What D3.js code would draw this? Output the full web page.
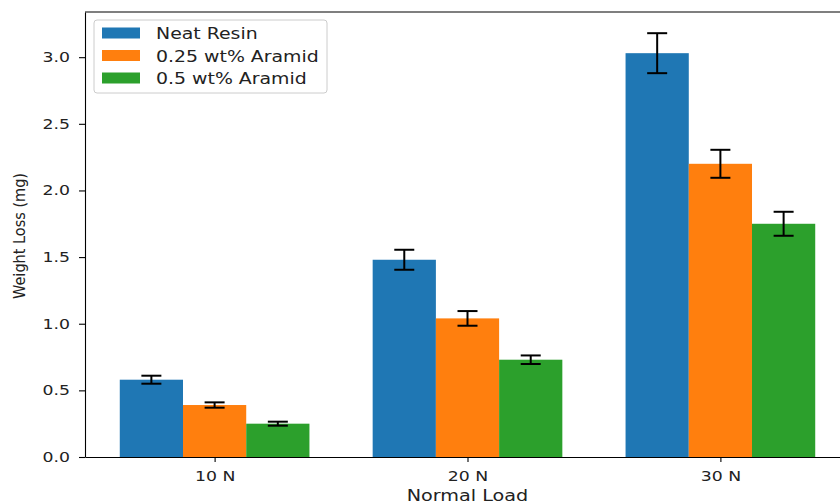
<!DOCTYPE html>
<html>
<head>
<meta charset="utf-8">
<script src="https://cdn.jsdelivr.net/npm/d3@7"></script>
<style>
body{margin:0;background:#fff;}
svg{display:block;font-family:"DejaVu Sans",sans-serif;}
</style>
</head>
<body>
<svg id="svg" width="840" height="504"></svg>
<script>
var loads=['10 N','20 N','30 N'];
var series=['Neat Resin','0.25 wt% Aramid','0.5 wt% Aramid'];
var colors=['#1f77b4','#ff7f0e','#2ca02c'];
var neat=[0.58,1.48,3.03];
var neatErr=[0.03,0.075,0.15];
var ar25=[0.39,1.04,2.20];
var ar25Err=[0.02,0.055,0.105];
var ar50=[0.25,0.73,1.75];
var ar50Err=[0.015,0.032,0.09];
var yticks=[0,0.5,1.0,1.5,2.0,2.5,3.0];

var values=[neat,ar25,ar50];
var errs=[neatErr,ar25Err,ar50Err];

var svg=d3.select("#svg");
var padding={top:12,left:85};
var chartarea={width:765,height:445};
var barw=0.25;
var sx=1.28; // text in the picture is stretched sideways

// numeric x positions like matplotlib: category index +/- bar width
var xscale=d3.scaleLinear()
.domain([-0.5125,2.5125])
.range([0,chartarea.width]);

var ymax=d3.max(values.map(function(v,s){
	return d3.max(v.map(function(d,i){return d+errs[s][i];}));
}))*1.05;

var yscale=d3.scaleLinear()
.domain([0,ymax])
.range([chartarea.height,0]);

var g=svg.append("g")
.attr('transform','translate('+padding.left+','+padding.top+')');

// bars
var bars=[];
values.forEach(function(v,s){
	v.forEach(function(d,i){
		bars.push({s:s,i:i,v:d,e:errs[s][i]});
	});
});

g.selectAll("rect.bar").data(bars).enter()
.append("rect")
.attr("class","bar")
.attr("x",function(d){return xscale(d.i+(d.s-1)*barw-barw/2);})
.attr("width",function(d){return xscale(barw)-xscale(0);})
.attr("y",function(d){return yscale(d.v);})
.attr("height",function(d){return chartarea.height-yscale(d.v);})
.attr("fill",function(d){return colors[d.s];});

// error bars
var eb=g.selectAll("g.err").data(bars).enter()
.append("g").attr("class","err")
.attr("stroke","#000").attr("stroke-width",2);

eb.append("line")
.attr("x1",function(d){return xscale(d.i+(d.s-1)*barw);})
.attr("x2",function(d){return xscale(d.i+(d.s-1)*barw);})
.attr("y1",function(d){return yscale(d.v-d.e);})
.attr("y2",function(d){return yscale(d.v+d.e);});

[-1,1].forEach(function(sign){
	eb.append("line")
	.attr("x1",function(d){return xscale(d.i+(d.s-1)*barw)-10;})
	.attr("x2",function(d){return xscale(d.i+(d.s-1)*barw)+10;})
	.attr("y1",function(d){return yscale(d.v+sign*d.e);})
	.attr("y2",function(d){return yscale(d.v+sign*d.e);});
});

// axes
var xaxis=g.append("g")
.attr('transform','translate(0,'+chartarea.height+')')
.call(d3.axisBottom(xscale).tickValues([0,1,2]).tickFormat(function(d){return loads[d];}).tickSize(5).tickSizeOuter(0));

var yaxis=g.append("g")
.call(d3.axisLeft(yscale).tickValues(yticks).tickFormat(d3.format(".1f")).tickSize(6).tickSizeOuter(0));

[xaxis,yaxis].forEach(function(a){
	a.selectAll("text").attr("font-size","13.5px").attr("fill","#222").attr("font-family","DejaVu Sans");
	a.selectAll("line").attr("stroke","#000").attr("stroke-width",1.1);
	a.select(".domain").attr("stroke","#000").attr("stroke-width",1.1);
});
xaxis.selectAll("text").attr("y",24).attr("dy",null).attr("transform","scale("+sx+",1)");
yaxis.selectAll("text").attr("x",-15/sx).attr("transform","scale("+sx+",1)");

// top spine
g.append("line")
.attr("x1",0).attr("x2",chartarea.width)
.attr("y1",0).attr("y2",0)
.attr("stroke","#000").attr("stroke-width",1.1);

// axis labels
svg.append("text")
.attr("transform","translate("+(padding.left+xscale(1))+",501) scale("+sx+",1)")
.attr("text-anchor","middle")
.attr("font-size","15px")
.attr("fill","#222")
.text("Normal Load");

svg.append("text")
.attr("transform","translate(25,236) scale(1.15,1) rotate(-90)")
.attr("text-anchor","middle")
.attr("font-size","14.5px")
.attr("fill","#222")
.text("Weight Loss (mg)");

// legend
var lg=svg.append("g").attr("transform","translate(94,20)");
lg.append("rect")
.attr("width",233).attr("height",73)
.attr("rx",3)
.attr("fill","#fff").attr("fill-opacity",0.8)
.attr("stroke","#ccc");

var items=lg.selectAll("g.item").data(series).enter()
.append("g").attr("class","item")
.attr("transform",function(d,i){return "translate(8,"+(7.5+i*22.5)+")";});

items.append("rect")
.attr("width",38).attr("height",11)
.attr("fill",function(d,i){return colors[i];});

items.append("text")
.attr("transform","translate(54,11.5) scale(1.22,1)")
.attr("font-size","15.5px")
.attr("fill","#222")
.text(function(d){return d;});
</script>
</body>
</html>
